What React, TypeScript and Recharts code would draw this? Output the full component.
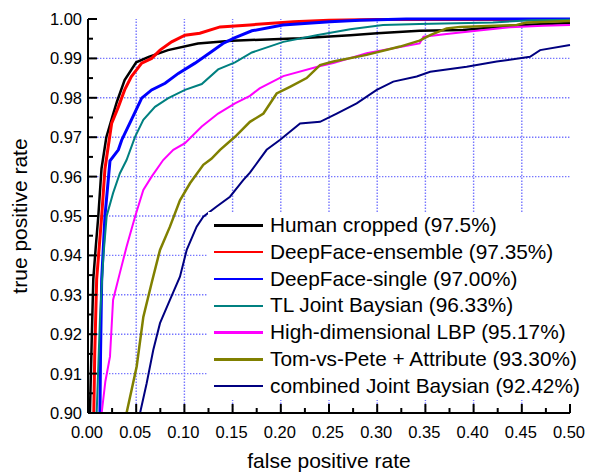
import React from 'react';
import { LineChart, Line, XAxis, YAxis, ReferenceLine, Legend } from 'recharts';

const FONT = '"Liberation Sans", Arial, Helvetica, sans-serif';

// axis ticks (major ones carry labels, minor ones sit halfway between)
const xMajorTicks = [0, 0.05, 0.1, 0.15, 0.2, 0.25, 0.3, 0.35, 0.4, 0.45, 0.5];
const yMajorTicks = [0.9, 0.91, 0.92, 0.93, 0.94, 0.95, 0.96, 0.97, 0.98, 0.99, 1.0];

const seriesNames = [
  'Human cropped (97.5%)',
  'DeepFace-ensemble (97.35%)',
  'DeepFace-single (97.00%)',
  'TL Joint Baysian (96.33%)',
  'High-dimensional LBP (95.17%)',
  'Tom-vs-Pete + Attribute (93.30%)',
  'combined Joint Baysian (92.42%)',
];

// ROC points: false positive rate / true positive rate
const humanFpr = [0.002, 0.004, 0.0055, 0.008, 0.0107, 0.014, 0.019, 0.025, 0.03, 0.038, 0.05, 0.063, 0.083, 0.114, 0.149, 0.22, 0.272, 0.3, 0.344, 0.389, 0.45, 0.5];
const humanTpr = [0.9, 0.92, 0.934, 0.942, 0.95, 0.962, 0.97, 0.975, 0.979, 0.9845, 0.989, 0.9904, 0.9921, 0.9938, 0.9945, 0.9951, 0.9959, 0.9964, 0.997, 0.9972, 0.9985, 0.999];

const ensembleFpr = [0.006, 0.007, 0.009, 0.0142, 0.0176, 0.0245, 0.0315, 0.038, 0.045, 0.0557, 0.066, 0.0747, 0.0868, 0.1006, 0.116, 0.137, 0.168, 0.213, 0.25, 0.3, 0.5];
const ensembleTpr = [0.9, 0.915, 0.934, 0.95, 0.962, 0.9735, 0.9777, 0.982, 0.9854, 0.9888, 0.99, 0.9921, 0.9942, 0.9959, 0.9964, 0.998, 0.9985, 0.9993, 0.9997, 0.9999, 0.9999];

const singleFpr = [0.0124, 0.013, 0.0142, 0.0176, 0.0228, 0.0315, 0.035, 0.045, 0.0557, 0.066, 0.08, 0.0937, 0.111, 0.128, 0.14, 0.152, 0.17, 0.202, 0.251, 0.282, 0.33, 0.5];
const singleTpr = [0.9, 0.915, 0.934, 0.95, 0.964, 0.9668, 0.9693, 0.9744, 0.9799, 0.982, 0.9837, 0.9862, 0.9888, 0.9917, 0.9938, 0.9952, 0.997, 0.9985, 0.9993, 0.9997, 1.0, 1.0];

const tlFpr = [0.009, 0.0124, 0.016, 0.0194, 0.026, 0.033, 0.04, 0.0488, 0.0574, 0.0695, 0.0833, 0.1006, 0.118, 0.135, 0.1525, 0.17, 0.2026, 0.237, 0.272, 0.306, 0.344, 0.42, 0.46, 0.5];
const tlTpr = [0.9, 0.924, 0.94, 0.95, 0.9558, 0.9608, 0.9642, 0.9701, 0.9744, 0.9777, 0.9799, 0.982, 0.9835, 0.9872, 0.989, 0.9915, 0.9942, 0.9959, 0.9974, 0.9985, 0.9987, 0.9991, 0.9997, 0.9998];

const lbpFpr = [0.0142, 0.018, 0.0228, 0.026, 0.033, 0.04, 0.0488, 0.0574, 0.066, 0.078, 0.0885, 0.1006, 0.118, 0.135, 0.1525, 0.168, 0.178, 0.2026, 0.24, 0.2545, 0.289, 0.3167, 0.344, 0.348, 0.372, 0.403, 0.4378, 0.472, 0.5];
const lbpTpr = [0.9, 0.908, 0.9143, 0.9287, 0.9355, 0.9422, 0.9498, 0.9566, 0.96, 0.9642, 0.9668, 0.9685, 0.9727, 0.976, 0.9786, 0.9805, 0.9824, 0.9855, 0.988, 0.9888, 0.9913, 0.9926, 0.9938, 0.9955, 0.9962, 0.997, 0.9979, 0.9983, 0.9985];

const tomFpr = [0.04, 0.0505, 0.0574, 0.066, 0.0747, 0.085, 0.0954, 0.1058, 0.1196, 0.128, 0.137, 0.1525, 0.168, 0.182, 0.1957, 0.2095, 0.2268, 0.2407, 0.2545, 0.289, 0.3237, 0.344, 0.355, 0.372, 0.386, 0.4447, 0.455, 0.5];
const tomTpr = [0.9, 0.9118, 0.9244, 0.933, 0.9414, 0.9473, 0.954, 0.9583, 0.963, 0.9645, 0.9668, 0.9701, 0.9739, 0.976, 0.9811, 0.9828, 0.985, 0.9883, 0.9892, 0.9909, 0.993, 0.9945, 0.9959, 0.9976, 0.998, 0.9985, 0.9991, 0.9995];

const combinedFpr = [0.054, 0.0608, 0.0677, 0.0747, 0.085, 0.0954, 0.1024, 0.1127, 0.1196, 0.1335, 0.1473, 0.161, 0.168, 0.1784, 0.1853, 0.199, 0.22, 0.2407, 0.258, 0.2787, 0.2995, 0.3167, 0.341, 0.355, 0.3928, 0.424, 0.4585, 0.469, 0.5];
const combinedTpr = [0.9, 0.9075, 0.916, 0.9228, 0.9287, 0.9346, 0.9414, 0.9473, 0.9498, 0.9524, 0.9549, 0.9591, 0.961, 0.9645, 0.9668, 0.9693, 0.9735, 0.9739, 0.976, 0.9786, 0.982, 0.9841, 0.9854, 0.9866, 0.9879, 0.9892, 0.9904, 0.9921, 0.9934];

const fprs = [humanFpr, ensembleFpr, singleFpr, tlFpr, lbpFpr, tomFpr, combinedFpr];
const tprs = [humanTpr, ensembleTpr, singleTpr, tlTpr, lbpTpr, tomTpr, combinedTpr];

const colors = ['#000000', '#ff0000', '#0000ff', '#008080', '#ff00ff', '#808000', '#000080'];
const widths = [2.5, 3, 3, 2, 2, 2.5, 2];

const series = seriesNames.map((name, i) => ({
  name,
  color: colors[i],
  width: widths[i],
  points: fprs[i].map((x, j) => ({ x, y: tprs[i][j] })),
}));

const withMinor = (majors: number[]) =>
  majors.flatMap((v, i) => (i === 0 ? [v] : [(majors[i - 1] + v) / 2, v]));

const isMajor = (majors: number[], v: number) => majors.some((m) => Math.abs(m - v) < 1e-9);

const XTick = (props: any) => {
  const { x, y, payload } = props;
  const major = isMajor(xMajorTicks, payload.value);
  return (
    <g>
      <line x1={x} y1={y} x2={x} y2={y - (major ? 9 : 5)} stroke="#000" strokeWidth={2} />
      {major && (
        <text x={x - 1} y={y + 24.5} textAnchor="middle" fontSize={16.5} fontFamily={FONT} fill="#000">
          {payload.value.toFixed(2)}
        </text>
      )}
    </g>
  );
};

const YTick = (props: any) => {
  const { x, y, payload } = props;
  const major = isMajor(yMajorTicks, payload.value);
  return (
    <g>
      <line x1={x} y1={y} x2={x + (major ? 9 : 5)} y2={y} stroke="#000" strokeWidth={2} />
      {major && (
        <text x={x - 6} y={y} dy="0.36em" textAnchor="end" fontSize={16.5} fontFamily={FONT} fill="#000">
          {payload.value.toFixed(2)}
        </text>
      )}
    </g>
  );
};

const LegendBox = () => (
  <div style={{ fontFamily: FONT, fontSize: 20.8, color: '#000' }}>
    {series.map((s) => (
      <div key={s.name} style={{ display: 'flex', alignItems: 'center', height: 26.8 }}>
        <div style={{ width: 49, height: 2.5, background: s.color, marginLeft: 6, marginRight: 7 }} />
        <span style={{ lineHeight: 1, whiteSpace: 'nowrap' }}>{s.name}</span>
      </div>
    ))}
  </div>
);

// dotted blue grid at the inner major ticks
const gridProps = { stroke: '#7676ff', strokeWidth: 1.4, strokeDasharray: '1.4 1.6' };

export default function App() {
  return (
    <div style={{ position: 'absolute', left: 0, top: 0, background: '#fff' }}>
      <LineChart width={590} height={476} margin={{ top: 19, right: 20, bottom: 0, left: 0 }}>
        <XAxis
          dataKey="x"
          type="number"
          domain={[0, 0.5]}
          ticks={withMinor(xMajorTicks)}
          interval={0}
          tick={<XTick />}
          tickSize={0}
          tickMargin={0}
          tickLine={false}
          axisLine={{ stroke: '#000', strokeWidth: 2 }}
          height={63}
          label={{ value: 'false positive rate', position: 'insideBottom', offset: 8, fontSize: 21, fontFamily: FONT, fill: '#000' }}
        />
        <YAxis
          type="number"
          domain={[0.9, 1.0]}
          ticks={withMinor(yMajorTicks)}
          interval={0}
          tick={<YTick />}
          tickSize={0}
          tickMargin={0}
          tickLine={false}
          axisLine={{ stroke: '#000', strokeWidth: 2 }}
          width={88}
          label={{ value: 'true positive rate', angle: -90, position: 'insideLeft', offset: 20, fontSize: 21, fontFamily: FONT, fill: '#000', style: { textAnchor: 'middle' } }}
        />
        {yMajorTicks.slice(1, -1).map((v) => (
          <ReferenceLine key={'h' + v} y={v} {...gridProps} />
        ))}
        {xMajorTicks.slice(1, -1).map((v) => (
          <ReferenceLine key={'v' + v} x={v} {...gridProps} />
        ))}
        {series.map((s) => (
          <Line
            key={s.name}
            data={s.points}
            dataKey="y"
            name={s.name}
            type="linear"
            stroke={s.color}
            strokeWidth={s.width}
            dot={false}
            activeDot={false}
            isAnimationActive={false}
          />
        ))}
        <Legend
          layout="vertical"
          align="center"
          verticalAlign="middle"
          wrapperStyle={{ left: 208, top: 212, width: 382, height: 188, background: '#fff' }}
          content={() => <LegendBox />}
        />
      </LineChart>
    </div>
  );
}
